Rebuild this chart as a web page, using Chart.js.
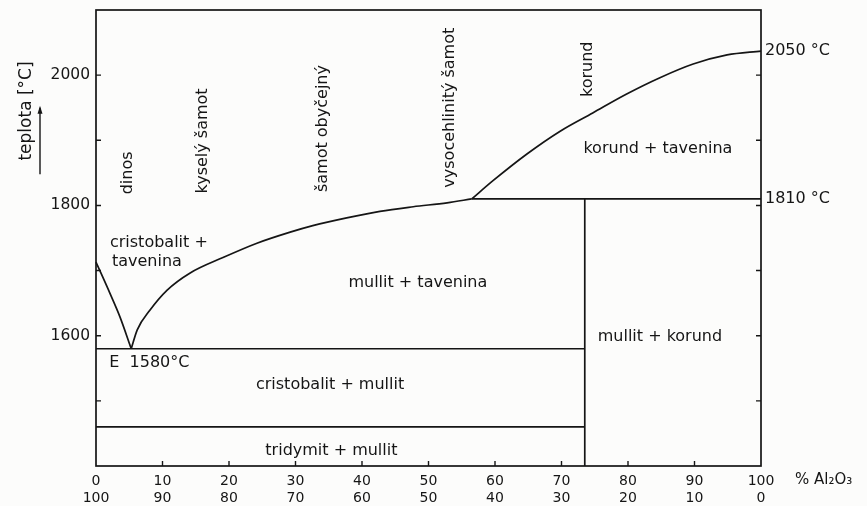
<!DOCTYPE html>
<html>
<head>
<meta charset="utf-8">
<script src="https://cdn.jsdelivr.net/npm/chart.js@4.4.0/dist/chart.umd.min.js"></script>
<style>
  html, body { margin: 0; padding: 0; background: #fcfcfb; }
  #wrap { width: 867px; height: 506px; }
</style>
</head>
<body>
<div id="wrap"><canvas id="chart" width="867" height="506"></canvas></div>
<script>
// SiO2 - Al2O3 phase diagram
// x = % Al2O3, y = temperature in °C
const cristobalitX = [0, 2.1, 3.6, 5.3];
const cristobalitT = [1713, 1665, 1629, 1580];
const mullitX = [5.3, 6.2, 8.1, 10.7, 14.1, 19.1, 24.2, 29.2, 32.6, 37.7, 42.7, 47.7, 52.8, 56.5];
const mullitT = [1580, 1609, 1639, 1670, 1696, 1720, 1742, 1759, 1769, 1781, 1791, 1798, 1804, 1810];
const korundX = [56.5, 59.7, 64.8, 69.8, 74.7, 79.8, 84.8, 89.8, 94.9, 100];
const korundT = [1810, 1838, 1879, 1914, 1942, 1971, 1996, 2017, 2031, 2037];

const eutecticX = [0, 73.5];
const eutecticT = [1580, 1580];
const inversionX = [0, 73.5];
const inversionT = [1460, 1460];
const peritecticX = [56.5, 100];
const peritecticT = [1810, 1810];
const mullitLineX = [73.5, 73.5];
const mullitLineT = [1400, 1810];

const yLabelled = [1600, 1800, 2000];

// region names: [text, % Al2O3, °C, rotated, align]
const regionLabels = [
  ['dinos', 4.8, 1850, true, 'center'],
  ['kyselý šamot', 16.1, 1899, true, 'center'],
  ['šamot obyčejný', 34.1, 1918, true, 'center'],
  ['vysocehlinitý šamot', 53.2, 1950, true, 'center'],
  ['korund', 74.0, 2009, true, 'center'],
  ['korund + tavenina', 84.5, 1887, false, 'center'],
  ['cristobalit +', 2.1, 1742, false, 'left'],
  ['tavenina', 2.4, 1714, false, 'left'],
  ['mullit + tavenina', 48.4, 1681, false, 'center'],
  ['E  1580°C', 2.0, 1558, false, 'left'],
  ['cristobalit + mullit', 35.2, 1525, false, 'center'],
  ['tridymit + mullit', 35.4, 1424, false, 'center'],
  ['mullit + korund', 84.8, 1598, false, 'center'],
  ['2050 °C', 100.6, 2037, false, 'left'],
  ['1810 °C', 100.6, 1810, false, 'left']
];

const INK = '#151515';
const FONT = '"DejaVu Sans", sans-serif';

function pts(xs, ys) {
  return xs.map((x, i) => ({ x: x, y: ys[i] }));
}

function line(xs, ys, curved) {
  return {
    data: pts(xs, ys),
    showLine: true,
    borderColor: INK,
    borderWidth: 1.7,
    pointRadius: 0,
    fill: false,
    clip: false,
    cubicInterpolationMode: curved ? 'monotone' : 'default',
    tension: curved ? 0.4 : 0
  };
}

const diagramPlugin = {
  id: 'diagram',
  afterDraw(chart) {
    const ctx = chart.ctx;
    const a = chart.chartArea;
    const xs = chart.scales.x;
    const ys = chart.scales.y;
    ctx.save();
    ctx.strokeStyle = INK;
    ctx.fillStyle = INK;
    ctx.lineWidth = 1.7;
    ctx.strokeRect(a.left, a.top, a.right - a.left, a.bottom - a.top);

    // inward tick marks
    ctx.lineWidth = 1.4;
    ys.ticks.forEach(t => {
      if (t.value <= ys.min || t.value >= ys.max) return;
      const py = ys.getPixelForValue(t.value);
      ctx.beginPath();
      ctx.moveTo(a.left, py); ctx.lineTo(a.left + 5, py);
      ctx.moveTo(a.right, py); ctx.lineTo(a.right - 5, py);
      ctx.stroke();
    });
    xs.ticks.forEach(t => {
      if (t.value <= xs.min || t.value >= xs.max) return;
      const px = xs.getPixelForValue(t.value);
      ctx.beginPath();
      ctx.moveTo(px, a.bottom); ctx.lineTo(px, a.bottom - 5);
      ctx.stroke();
    });

    // region labels
    ctx.font = '16px ' + FONT;
    ctx.textBaseline = 'middle';
    regionLabels.forEach(([text, x, t, rot, align]) => {
      const px = xs.getPixelForValue(x);
      const py = ys.getPixelForValue(t);
      ctx.save();
      ctx.translate(px, py);
      if (rot) ctx.rotate(-Math.PI / 2);
      ctx.textAlign = align;
      ctx.fillText(text, 0, 0);
      ctx.restore();
    });

    // y axis title and arrow
    ctx.save();
    ctx.font = '17px ' + FONT;
    ctx.translate(a.left - 69, ys.getPixelForValue(1945));
    ctx.rotate(-Math.PI / 2);
    ctx.textAlign = 'center';
    ctx.fillText('teplota [°C]', 0, 0);
    ctx.restore();
    const ax = a.left - 56;
    const y0 = ys.getPixelForValue(1848);
    const y1 = ys.getPixelForValue(1950);
    ctx.lineWidth = 1.4;
    ctx.beginPath();
    ctx.moveTo(ax, y0); ctx.lineTo(ax, y1);
    ctx.stroke();
    ctx.beginPath();
    ctx.moveTo(ax, y1 - 2);
    ctx.lineTo(ax - 2.5, y1 + 6);
    ctx.lineTo(ax + 2.5, y1 + 6);
    ctx.closePath();
    ctx.fill();

    // x axis unit after the 100 label
    ctx.font = '15px ' + FONT;
    ctx.textAlign = 'left';
    ctx.fillText('% Al₂O₃', xs.getPixelForValue(100) + 34, a.bottom + 14);
    ctx.restore();
  }
};

new Chart(document.getElementById('chart'), {
  type: 'scatter',
  data: {
    datasets: [
      line(cristobalitX, cristobalitT, true),
      line(mullitX, mullitT, true),
      line(korundX, korundT, true),
      line(eutecticX, eutecticT, false),
      line(inversionX, inversionT, false),
      line(peritecticX, peritecticT, false),
      line(mullitLineX, mullitLineT, false)
    ]
  },
  options: {
    responsive: false,
    animation: false,
    layout: { padding: { top: 10, right: 106, bottom: 0, left: 0 } },
    plugins: {
      legend: { display: false },
      tooltip: { enabled: false }
    },
    scales: {
      x: {
        type: 'linear',
        min: 0,
        max: 100,
        grid: { display: false, drawTicks: false },
        border: { display: false },
        afterFit(s) { s.height = 40; s.paddingLeft = 0; s.paddingRight = 0; },
        ticks: {
          stepSize: 10,
          autoSkip: false,
          maxRotation: 0,
          padding: 7,
          color: INK,
          font: { family: FONT, size: 14, lineHeight: 1.2 },
          callback: v => [String(v), String(100 - v)]
        }
      },
      y: {
        type: 'linear',
        min: 1400,
        max: 2100,
        grid: { display: false, drawTicks: false },
        border: { display: false },
        afterFit(s) { s.width = 96; s.paddingTop = 0; s.paddingBottom = 0; },
        ticks: {
          stepSize: 100,
          autoSkip: false,
          padding: 6,
          color: INK,
          font: { family: FONT, size: 15.5 },
          callback: v => yLabelled.includes(v) ? String(v) : ''
        }
      }
    }
  },
  plugins: [diagramPlugin]
});
</script>
</body>
</html>
